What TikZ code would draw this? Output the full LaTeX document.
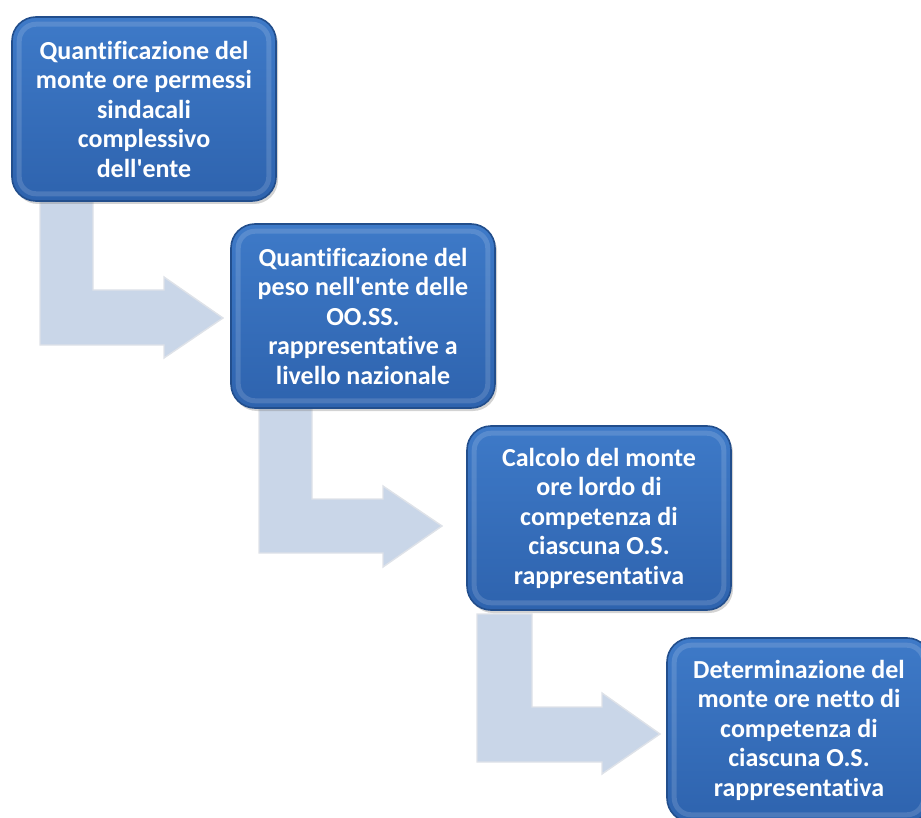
\documentclass[tikz,border=0pt]{standalone}
\usepackage{fontspec}
\newfontfamily\boxfont[Ligatures=NoCommon]{Carlito}
\usetikzlibrary{shadows,calc}
\definecolor{boxtop}{RGB}{62,122,200}
\definecolor{boxbot}{RGB}{46,99,174}
\definecolor{boxedge}{RGB}{34,78,140}
\definecolor{arrfill}{RGB}{201,214,232}
\definecolor{arredge}{RGB}{222,226,232}
\tikzset{
  stepbox/.style={draw=boxedge, line width=1.6pt, rounded corners=24pt,
    top color=boxtop, bottom color=boxbot,
    minimum width=264pt, minimum height=184pt, inner sep=0pt,
    align=center, text=white,
    font=\boxfont\fontsize{26}{29.5}\selectfont\bfseries,
    drop shadow={opacity=0.35, shadow xshift=2pt, shadow yshift=-3pt}},
  bevel/.style={draw=white, draw opacity=0.14, line width=5pt, rounded corners=17pt},
  bentarrow/.style={fill=arrfill, draw=arredge, line width=1.4pt, line join=miter}
}
\newcommand\bevelof[1]{\draw[bevel] ($(#1.south west)+(8,8)$) rectangle ($(#1.north east)+(-8,-8)$);}
\begin{document}
\begin{tikzpicture}[x=1pt,y=1pt]
\useasboundingbox (0,0) rectangle (921,-818);
% bent arrows (behind the boxes)
\draw[bentarrow] (40,-195) -- (93,-195) -- (93,-290) -- (164,-290) -- (164,-277)
  -- (223,-318) -- (164,-358) -- (164,-345) -- (40,-345) -- cycle;
\draw[bentarrow] (259,-400) -- (312,-400) -- (312,-499) -- (383,-499) -- (383,-486)
  -- (442,-526) -- (383,-567) -- (383,-553) -- (259,-553) -- cycle;
\draw[bentarrow] (477,-614) -- (532,-614) -- (532,-707) -- (602,-707) -- (602,-693)
  -- (660,-734) -- (602,-774) -- (602,-762) -- (477,-762) -- cycle;
% boxes
\node[stepbox] (b1) at (144,-109) {Quantificazione del\\monte ore permessi\\sindacali\\complessivo\\dell'ente};
\bevelof{b1}
\node[stepbox] (b2) at (363,-316) {Quantificazione del\\peso nell'ente delle\\OO.SS.\\rappresentative a\\livello nazionale};
\bevelof{b2}
\node[stepbox] (b3) at (599,-518) {Calcolo del monte\\ore lordo di\\competenza di\\ciascuna O.S.\\rappresentativa};
\bevelof{b3}
\node[stepbox] (b4) at (799,-730) {Determinazione del\\monte ore netto di\\competenza di\\ciascuna O.S.\\rappresentativa};
\bevelof{b4}
\end{tikzpicture}
\end{document}
